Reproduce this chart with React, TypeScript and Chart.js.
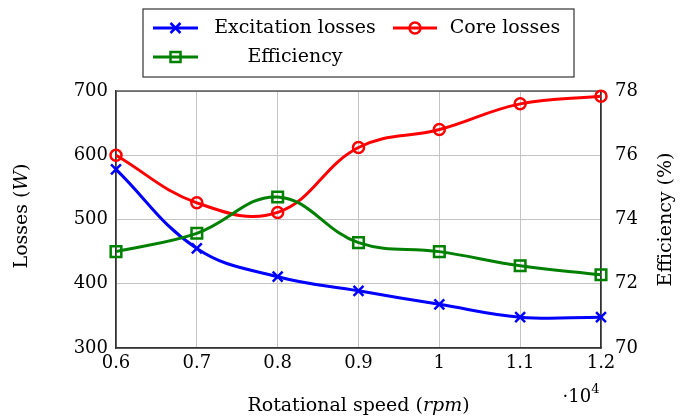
import React, { useEffect, useRef } from "react";
import { Chart, registerables } from "chart.js";

Chart.register(...registerables);

const speeds = ["0.6", "0.7", "0.8", "0.9", "1", "1.1", "1.2"];
const excitationLosses = [578, 455, 411, 389, 368, 348, 348];
const coreLosses = [600, 526, 511, 612, 640, 680, 692];
const efficiency = [73.0, 73.57, 74.7, 73.28, 73.0, 72.56, 72.28];

const lossTicks = [300, 400, 500, 600, 700];
const effTicks = [70, 72, 74, 76, 78];

const FONT = "'DejaVu Serif', serif";
const BLUE = "#0000ff";
const RED = "#ff0000";
const GREEN = "#008000";

type Seg = { t: string; italic?: boolean; size?: number; dy?: number };

function drawRich(ctx: CanvasRenderingContext2D, segs: Seg[], cx: number, cy: number, rot: number, baseSize: number) {
  ctx.save();
  ctx.translate(cx, cy);
  ctx.rotate(rot);
  ctx.textBaseline = "middle";
  ctx.textAlign = "left";
  ctx.fillStyle = "#000";
  let total = 0;
  const widths: number[] = [];
  for (const s of segs) {
    ctx.font = `${s.italic ? "italic " : ""}${s.size || baseSize}px ${FONT}`;
    const w = ctx.measureText(s.t).width;
    widths.push(w);
    total += w;
  }
  let x = -total / 2;
  segs.forEach((s, i) => {
    ctx.font = `${s.italic ? "italic " : ""}${s.size || baseSize}px ${FONT}`;
    ctx.fillText(s.t, x, s.dy || 0);
    x += widths[i];
  });
  ctx.restore();
}

function drawMarker(ctx: CanvasRenderingContext2D, kind: string, x: number, y: number, color: string) {
  ctx.save();
  ctx.strokeStyle = color;
  ctx.lineWidth = 2.5;
  ctx.beginPath();
  if (kind === "cross") {
    const s = 5;
    ctx.moveTo(x - s, y - s);
    ctx.lineTo(x + s, y + s);
    ctx.moveTo(x - s, y + s);
    ctx.lineTo(x + s, y - s);
  } else if (kind === "circle") {
    ctx.arc(x, y, 5.5, 0, Math.PI * 2);
  } else {
    ctx.rect(x - 5, y - 5, 10, 10);
  }
  ctx.stroke();
  ctx.restore();
}

const decorPlugin = {
  id: "decor",
  beforeDatasetsDraw(chart: any) {
    const { ctx, chartArea } = chart;
    ctx.save();
    ctx.strokeStyle = "#333";
    ctx.lineWidth = 1.2;
    ctx.strokeRect(chartArea.left, chartArea.top, chartArea.right - chartArea.left, chartArea.bottom - chartArea.top);
    ctx.restore();
  },
  afterDraw(chart: any) {
    const { ctx, chartArea } = chart;
    ctx.save();
    ctx.fillStyle = "#fff";
    ctx.fillRect(143, 9, 431, 68);
    ctx.strokeStyle = "#333";
    ctx.lineWidth = 1.2;
    ctx.strokeRect(143, 9, 431, 68);
    const items = [
      { label: "Excitation losses", color: BLUE, kind: "cross", x0: 153, x1: 198, tc: 295, y: 28 },
      { label: "Core losses", color: RED, kind: "circle", x0: 393, x1: 437, tc: 505, y: 28 },
      { label: "Efficiency", color: GREEN, kind: "square", x0: 153, x1: 198, tc: 295, y: 57 },
    ];
    for (const it of items) {
      ctx.strokeStyle = it.color;
      ctx.lineWidth = 3;
      ctx.beginPath();
      ctx.moveTo(it.x0, it.y);
      ctx.lineTo(it.x1, it.y);
      ctx.stroke();
      drawMarker(ctx, it.kind, (it.x0 + it.x1) / 2, it.y, it.color);
      drawRich(ctx, [{ t: it.label }], it.tc, it.y, 0, 19);
    }
    ctx.restore();
    const midY = (chartArea.top + chartArea.bottom) / 2;
    drawRich(ctx, [{ t: "Losses (" }, { t: "W", italic: true }, { t: ")" }], 22, 216, -Math.PI / 2, 19);
    drawRich(ctx, [{ t: "Efficiency (%)" }], 666, midY, -Math.PI / 2, 19);
    drawRich(ctx, [{ t: "Rotational speed (" }, { t: "rpm", italic: true }, { t: ")" }], (chartArea.left + chartArea.right) / 2, 406, 0, 19);
    drawRich(ctx, [{ t: "·10" }, { t: "4", size: 13, dy: -7 }], 581, 397, 0, 18);
  },
};

export default function App() {
  const ref = useRef<HTMLCanvasElement | null>(null);
  useEffect(() => {
    document.body.style.margin = "0";
    const canvas = ref.current!;
    const chart = new Chart(canvas, {
      type: "line",
      data: {
        labels: speeds,
        datasets: [
          {
            label: "Excitation losses",
            data: excitationLosses,
            yAxisID: "y",
            borderColor: BLUE,
            backgroundColor: "rgba(0,0,0,0)",
            borderWidth: 3,
            pointStyle: "crossRot",
            pointRadius: 7,
            pointBorderWidth: 2.5,
            pointBorderColor: BLUE,
            tension: 0.4,
            clip: false as any,
            order: 3,
          },
          {
            label: "Core losses",
            data: coreLosses,
            yAxisID: "y",
            borderColor: RED,
            backgroundColor: "rgba(0,0,0,0)",
            borderWidth: 3,
            pointStyle: "circle",
            pointRadius: 5.5,
            pointBorderWidth: 2.5,
            pointBorderColor: RED,
            pointBackgroundColor: "rgba(0,0,0,0)",
            tension: 0.4,
            clip: false as any,
            order: 2,
          },
          {
            label: "Efficiency",
            data: efficiency,
            yAxisID: "y1",
            borderColor: GREEN,
            backgroundColor: "rgba(0,0,0,0)",
            borderWidth: 3,
            pointStyle: "rect",
            pointRadius: 7.5,
            pointBorderWidth: 2.5,
            pointBorderColor: GREEN,
            pointBackgroundColor: "rgba(0,0,0,0)",
            tension: 0.4,
            clip: false as any,
            order: 1,
          },
        ],
      },
      options: {
        animation: false,
        responsive: false,
        devicePixelRatio: 1,
        layout: { padding: { top: 91, left: 0, right: 0, bottom: 0 } },
        plugins: { legend: { display: false }, tooltip: { enabled: false } },
        scales: {
          x: {
            type: "category",
            offset: false,
            grid: { color: "#c4c4c4", lineWidth: 1, drawTicks: false },
            border: { color: "#333", width: 1.2 },
            ticks: { color: "#000", font: { family: FONT, size: 18 }, padding: 5, autoSkip: false, maxRotation: 0 },
            afterFit: (s: any) => { s.height = 71; },
          },
          y: {
            position: "left",
            min: 300,
            max: 700,
            afterBuildTicks: (s: any) => { s.ticks = lossTicks.map((v) => ({ value: v })); },
            grid: { color: "#c4c4c4", lineWidth: 1, drawTicks: false },
            border: { color: "#333", width: 1.2 },
            ticks: { color: "#000", font: { family: FONT, size: 18 }, padding: 8 },
            afterFit: (s: any) => { s.width = 116; },
          },
          y1: {
            position: "right",
            min: 70,
            max: 78,
            afterBuildTicks: (s: any) => { s.ticks = effTicks.map((v) => ({ value: v })); },
            grid: { display: false, drawTicks: false },
            border: { color: "#333", width: 1.2 },
            ticks: { color: "#000", font: { family: FONT, size: 18 }, padding: 14 },
            afterFit: (s: any) => { s.width = 88; },
          },
        },
      } as any,
      plugins: [decorPlugin],
    });
    return () => chart.destroy();
  }, []);
  return (
    <div style={{ position: "fixed", left: 0, top: 0, width: 689, height: 419, background: "#fff" }}>
      <canvas ref={ref} width={689} height={419} style={{ width: 689, height: 419 }} />
    </div>
  );
}
